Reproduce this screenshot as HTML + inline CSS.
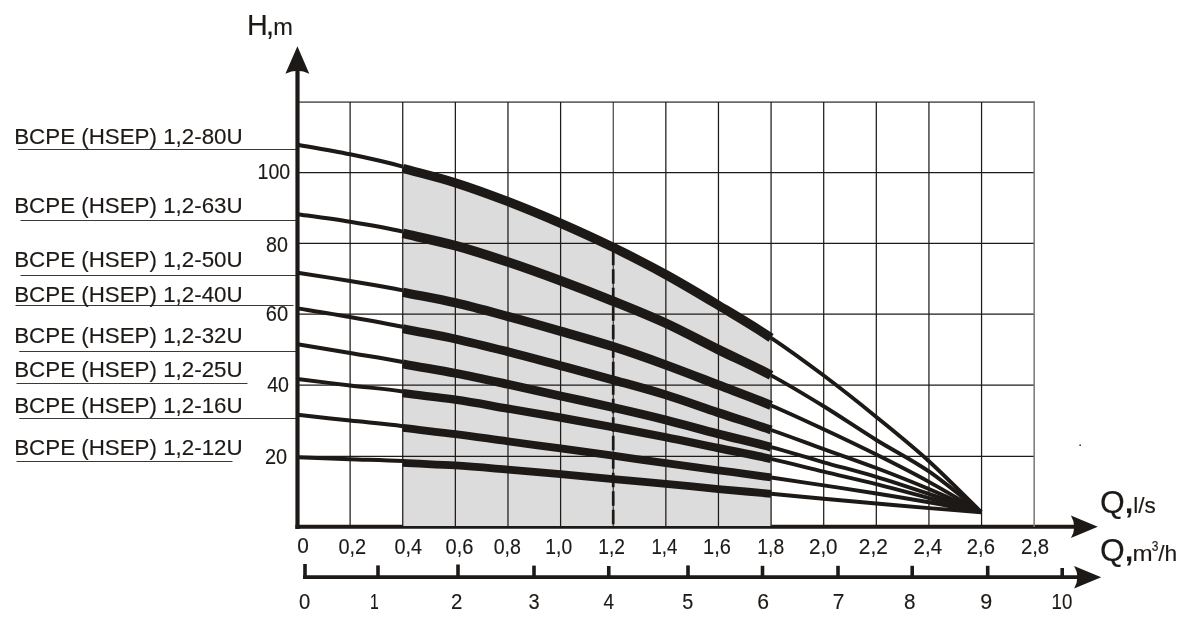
<!DOCTYPE html>
<html><head><meta charset="utf-8"><title>H-Q chart</title>
<style>html,body{margin:0;padding:0;background:#fff}svg{display:block}text{font-family:"Liberation Sans",Arial,sans-serif;fill:#1d1916;stroke:#1d1916;stroke-width:.15px}</style></head><body>
<svg width="1187" height="631" viewBox="0 0 1187 631">
<rect width="1187" height="631" fill="#fff"/>
<line x1="295.4" y1="526.75" x2="1078" y2="526.75" stroke="#1d1916" stroke-width="4.2"/>
<path d="M402.74,167.49 C420.28,172.24 437.82,177.12 455.36,182.80 C472.90,188.47 490.44,194.82 507.98,201.57 C525.52,208.32 543.06,215.63 560.60,223.28 C578.14,230.93 595.68,238.91 613.22,247.47 C630.76,256.03 648.30,264.97 665.84,274.62 C683.38,284.27 700.92,294.82 718.46,305.35 C736.00,315.88 753.54,326.12 771.08,337.82 L771.48,526 L402.74,526 Z" fill="#dcdcdc"/>
<line x1="297.50" y1="102.10" x2="1034.98" y2="102.10" stroke="#6a6866" stroke-width="1.6"/>
<line x1="297.50" y1="172.50" x2="1034.18" y2="172.50" stroke="#1f1b19" stroke-width="1.25"/>
<line x1="297.50" y1="243.30" x2="1034.18" y2="243.30" stroke="#1f1b19" stroke-width="1.25"/>
<line x1="297.50" y1="314.20" x2="1034.18" y2="314.20" stroke="#1f1b19" stroke-width="1.25"/>
<line x1="297.50" y1="385.20" x2="1034.18" y2="385.20" stroke="#1f1b19" stroke-width="1.25"/>
<line x1="297.50" y1="456.40" x2="1034.18" y2="456.40" stroke="#1f1b19" stroke-width="1.25"/>
<line x1="350.12" y1="102.10" x2="350.12" y2="526.75" stroke="#1f1b19" stroke-width="1.25"/>
<line x1="402.74" y1="102.10" x2="402.74" y2="526.75" stroke="#1f1b19" stroke-width="1.25"/>
<line x1="455.36" y1="102.10" x2="455.36" y2="526.75" stroke="#1f1b19" stroke-width="1.25"/>
<line x1="507.98" y1="102.10" x2="507.98" y2="526.75" stroke="#1f1b19" stroke-width="1.25"/>
<line x1="560.60" y1="102.10" x2="560.60" y2="526.75" stroke="#1f1b19" stroke-width="1.25"/>
<line x1="613.22" y1="102.10" x2="613.22" y2="526.75" stroke="#1f1b19" stroke-width="1.0"/>
<line x1="613.22" y1="250.80" x2="613.22" y2="525.50" stroke="#1d1916" stroke-width="2.7" stroke-dasharray="14.5 4"/>
<line x1="665.84" y1="102.10" x2="665.84" y2="526.75" stroke="#1f1b19" stroke-width="1.25"/>
<line x1="718.46" y1="102.10" x2="718.46" y2="526.75" stroke="#1f1b19" stroke-width="1.25"/>
<line x1="771.08" y1="102.10" x2="771.08" y2="526.75" stroke="#1f1b19" stroke-width="1.25"/>
<line x1="823.70" y1="102.10" x2="823.70" y2="526.75" stroke="#1f1b19" stroke-width="1.25"/>
<line x1="876.32" y1="102.10" x2="876.32" y2="526.75" stroke="#1f1b19" stroke-width="1.25"/>
<line x1="928.94" y1="102.10" x2="928.94" y2="526.75" stroke="#1f1b19" stroke-width="1.25"/>
<line x1="981.56" y1="102.10" x2="981.56" y2="526.75" stroke="#1f1b19" stroke-width="1.25"/>
<line x1="1034.18" y1="102.10" x2="1034.18" y2="526.75" stroke="#807e7c" stroke-width="1.6"/>
<line x1="18.10" y1="149.50" x2="296.00" y2="149.50" stroke="#3c3836" stroke-width="1"/>
<line x1="20.50" y1="220.50" x2="296.00" y2="220.50" stroke="#3c3836" stroke-width="1"/>
<line x1="20.50" y1="275.50" x2="296.00" y2="275.50" stroke="#3c3836" stroke-width="1"/>
<line x1="15.50" y1="305.50" x2="293.50" y2="305.50" stroke="#3c3836" stroke-width="1"/>
<line x1="19.25" y1="351.50" x2="296.00" y2="351.50" stroke="#3c3836" stroke-width="1"/>
<line x1="16.50" y1="383.50" x2="247.50" y2="383.50" stroke="#3c3836" stroke-width="1"/>
<line x1="19.25" y1="418.50" x2="296.00" y2="418.50" stroke="#3c3836" stroke-width="1"/>
<line x1="16.50" y1="461.50" x2="232.50" y2="461.50" stroke="#3c3836" stroke-width="1"/>
<path d="M297.50,144.71 C306.27,146.31 332.58,150.67 350.12,154.32 C367.66,157.97 385.20,161.85 402.74,166.59" fill="none" stroke="#1d1916" stroke-width="4.0"/>
<path d="M771.08,337.82 C788.62,349.52 806.16,362.37 823.70,375.55 C841.24,388.74 858.78,402.67 876.32,416.94 C893.86,431.21 911.46,445.32 928.94,461.19 C946.42,477.07 972.49,503.69 981.20,512.19" fill="none" stroke="#1d1916" stroke-width="3.9"/>
<path d="M402.74,168.39 C420.28,173.14 437.82,177.27 455.36,182.80 C472.90,188.32 490.44,194.82 507.98,201.57 C525.52,208.32 543.06,215.63 560.60,223.28 C578.14,230.93 595.68,238.91 613.22,247.47 C630.76,256.03 648.30,264.97 665.84,274.62 C683.38,284.27 700.92,294.82 718.46,305.35 C736.00,315.88 753.54,326.12 771.08,337.82" fill="none" stroke="#1d1916" stroke-width="9.2"/>
<path d="M297.50,214.20 C306.27,215.46 332.58,218.89 350.12,221.78 C367.66,224.68 385.20,227.60 402.74,231.59" fill="none" stroke="#1d1916" stroke-width="4.0"/>
<path d="M771.08,375.37 C788.62,384.82 806.16,395.50 823.70,406.27 C841.24,417.04 858.78,429.12 876.32,439.98 C893.86,450.84 911.46,459.38 928.94,471.42 C946.42,483.45 972.49,505.40 981.20,512.20" fill="none" stroke="#1d1916" stroke-width="3.9"/>
<path d="M402.74,233.39 C420.28,237.37 437.82,240.92 455.36,245.69 C472.90,250.47 490.44,256.18 507.98,262.03 C525.52,267.87 543.06,274.25 560.60,280.77 C578.14,287.30 595.68,294.10 613.22,301.18 C630.76,308.26 648.30,315.19 665.84,323.26 C683.38,331.33 700.92,340.89 718.46,349.58 C736.00,358.26 753.54,365.92 771.08,375.37" fill="none" stroke="#1d1916" stroke-width="9.6"/>
<path d="M297.50,272.69 C306.27,274.08 332.58,278.11 350.12,281.06 C367.66,284.00 385.20,286.72 402.74,290.34" fill="none" stroke="#1d1916" stroke-width="4.0"/>
<path d="M771.08,405.44 C788.62,412.81 806.16,421.08 823.70,429.27 C841.24,437.46 858.78,445.82 876.32,454.58 C893.86,463.34 911.46,472.24 928.94,481.84 C946.42,491.44 972.49,507.14 981.20,512.20" fill="none" stroke="#1d1916" stroke-width="3.9"/>
<path d="M402.74,292.14 C420.28,295.76 437.82,298.74 455.36,302.80 C472.90,306.86 490.44,311.74 507.98,316.48 C525.52,321.22 543.06,326.20 560.60,331.24 C578.14,336.28 595.68,341.10 613.22,346.72 C630.76,352.34 648.30,358.59 665.84,364.98 C683.38,371.37 700.92,378.31 718.46,385.05 C736.00,391.79 753.54,398.06 771.08,405.44" fill="none" stroke="#1d1916" stroke-width="9.2"/>
<path d="M297.50,308.39 C306.27,309.83 332.58,313.96 350.12,317.03 C367.66,320.10 385.20,323.14 402.74,326.79" fill="none" stroke="#1d1916" stroke-width="4.0"/>
<path d="M771.08,429.97 C788.62,436.03 806.16,442.71 823.70,449.06 C841.24,455.40 858.78,461.38 876.32,468.04 C893.86,474.70 911.46,481.65 928.94,489.01 C946.42,496.36 972.49,508.32 981.20,512.19" fill="none" stroke="#1d1916" stroke-width="3.9"/>
<path d="M402.74,328.59 C420.28,332.24 437.82,335.08 455.36,338.93 C472.90,342.79 490.44,347.27 507.98,351.72 C525.52,356.18 543.06,360.98 560.60,365.67 C578.14,370.37 595.68,375.04 613.22,379.91 C630.76,384.78 648.30,389.42 665.84,394.90 C683.38,400.37 700.92,406.90 718.46,412.74 C736.00,418.59 753.54,423.92 771.08,429.97" fill="none" stroke="#1d1916" stroke-width="8.8"/>
<path d="M297.50,344.20 C306.27,345.68 332.58,350.10 350.12,353.07 C367.66,356.04 385.20,358.67 402.74,362.03" fill="none" stroke="#1d1916" stroke-width="4.0"/>
<path d="M771.08,447.18 C788.62,451.91 806.16,457.35 823.70,462.29 C841.24,467.24 858.78,471.58 876.32,476.86 C893.86,482.14 911.46,488.08 928.94,493.97 C946.42,499.86 972.49,509.16 981.20,512.19" fill="none" stroke="#1d1916" stroke-width="3.9"/>
<path d="M402.74,363.83 C420.28,367.19 437.82,369.82 455.36,373.23 C472.90,376.63 490.44,380.47 507.98,384.26 C525.52,388.05 543.06,392.12 560.60,395.98 C578.14,399.85 595.68,403.45 613.22,407.44 C630.76,411.43 648.30,415.52 665.84,419.93 C683.38,424.35 700.92,429.38 718.46,433.92 C736.00,438.46 753.54,442.45 771.08,447.18" fill="none" stroke="#1d1916" stroke-width="8.8"/>
<path d="M297.50,379.11 C306.27,380.16 332.58,383.39 350.12,385.44 C367.66,387.49 385.20,389.04 402.74,391.41" fill="none" stroke="#1d1916" stroke-width="4.0"/>
<path d="M771.08,458.84 C788.62,462.74 806.16,467.41 823.70,471.62 C841.24,475.84 858.78,479.71 876.32,484.11 C893.86,488.51 911.46,493.36 928.94,498.04 C946.42,502.72 972.49,509.85 981.20,512.21" fill="none" stroke="#1d1916" stroke-width="3.9"/>
<path d="M402.74,393.21 C420.28,395.59 437.82,397.13 455.36,399.69 C472.90,402.25 490.44,405.59 507.98,408.59 C525.52,411.58 543.06,414.56 560.60,417.67 C578.14,420.78 595.68,423.98 613.22,427.24 C630.76,430.49 648.30,433.72 665.84,437.21 C683.38,440.70 700.92,444.59 718.46,448.19 C736.00,451.80 753.54,454.93 771.08,458.84" fill="none" stroke="#1d1916" stroke-width="8.3"/>
<path d="M297.50,414.80 C306.27,415.77 332.58,418.71 350.12,420.60 C367.66,422.50 385.20,423.94 402.74,426.18" fill="none" stroke="#1d1916" stroke-width="4.0"/>
<path d="M771.08,477.48 C788.62,480.00 806.16,482.75 823.70,485.42 C841.24,488.08 858.78,490.64 876.32,493.45 C893.86,496.26 911.46,499.16 928.94,502.28 C946.42,505.41 972.49,510.55 981.20,512.20" fill="none" stroke="#1d1916" stroke-width="3.9"/>
<path d="M402.74,427.98 C420.28,430.22 437.82,431.81 455.36,434.04 C472.90,436.27 490.44,438.97 507.98,441.37 C525.52,443.77 543.06,446.05 560.60,448.44 C578.14,450.83 595.68,453.26 613.22,455.72 C630.76,458.18 648.30,460.77 665.84,463.20 C683.38,465.63 700.92,467.93 718.46,470.31 C736.00,472.68 753.54,474.96 771.08,477.48" fill="none" stroke="#1d1916" stroke-width="7.8"/>
<path d="M297.50,457.30 C306.27,457.62 332.58,458.60 350.12,459.23 C367.66,459.86 385.20,460.06 402.74,461.10" fill="none" stroke="#1d1916" stroke-width="4.0"/>
<path d="M771.08,493.80 C788.62,495.41 806.16,497.09 823.70,498.71 C841.24,500.32 858.78,501.92 876.32,503.48 C893.86,505.04 911.46,506.62 928.94,508.07 C946.42,509.53 972.49,511.52 981.20,512.20" fill="none" stroke="#1d1916" stroke-width="3.9"/>
<path d="M402.74,462.90 C420.28,463.93 437.82,464.33 455.36,465.45 C472.90,466.57 490.44,468.17 507.98,469.62 C525.52,471.08 543.06,472.64 560.60,474.21 C578.14,475.78 595.68,477.44 613.22,479.04 C630.76,480.65 648.30,482.18 665.84,483.84 C683.38,485.50 700.92,487.36 718.46,489.02 C736.00,490.68 753.54,492.18 771.08,493.80" fill="none" stroke="#1d1916" stroke-width="7.8"/>
<line x1="297.5" y1="60" x2="297.5" y2="528.9" stroke="#1d1916" stroke-width="4.2"/>
<path d="M297.4,46.3 L309.3,73.8 Q297.4,67.5 285.4,73.8 Z" fill="#1d1916"/>
<path d="M1097.8,526.75 L1070.9,515.4 Q1077.5,526.75 1070.9,538.1 Z" fill="#1d1916"/>
<line x1="303" y1="577.2" x2="1082" y2="577.2" stroke="#1d1916" stroke-width="3.8"/>
<path d="M1101.2,577.2 L1074.1,565.9 Q1080.7,577.2 1074.1,588.5 Z" fill="#1d1916"/>
<line x1="305.00" y1="564.00" x2="305.00" y2="577" stroke="#1d1916" stroke-width="3.6"/>
<line x1="378.00" y1="565.40" x2="378.00" y2="577" stroke="#1d1916" stroke-width="3.6"/>
<line x1="458.00" y1="564.50" x2="458.00" y2="577" stroke="#1d1916" stroke-width="3.6"/>
<line x1="534.00" y1="565.60" x2="534.00" y2="577" stroke="#1d1916" stroke-width="3.6"/>
<line x1="608.75" y1="566.00" x2="608.75" y2="577" stroke="#1d1916" stroke-width="3.6"/>
<line x1="688.00" y1="565.40" x2="688.00" y2="577" stroke="#1d1916" stroke-width="3.6"/>
<line x1="762.50" y1="565.80" x2="762.50" y2="577" stroke="#1d1916" stroke-width="3.6"/>
<line x1="838.00" y1="565.80" x2="838.00" y2="577" stroke="#1d1916" stroke-width="3.6"/>
<line x1="912.20" y1="565.80" x2="912.20" y2="577" stroke="#1d1916" stroke-width="3.6"/>
<line x1="987.70" y1="565.80" x2="987.70" y2="577" stroke="#1d1916" stroke-width="3.6"/>
<line x1="1062.20" y1="568.00" x2="1062.20" y2="577" stroke="#1d1916" stroke-width="3.6"/>
<text transform="translate(14.21,143.70) scale(0.9843,1)" font-size="22.70">BCPE (HSEP) 1,2-80U</text>
<text transform="translate(14.21,213.25) scale(0.9843,1)" font-size="22.70">BCPE (HSEP) 1,2-63U</text>
<text transform="translate(14.21,266.75) scale(0.9843,1)" font-size="22.70">BCPE (HSEP) 1,2-50U</text>
<text transform="translate(14.21,302.00) scale(0.9843,1)" font-size="22.70">BCPE (HSEP) 1,2-40U</text>
<text transform="translate(14.21,342.50) scale(0.9843,1)" font-size="22.70">BCPE (HSEP) 1,2-32U</text>
<text transform="translate(14.21,376.75) scale(0.9843,1)" font-size="22.70">BCPE (HSEP) 1,2-25U</text>
<text transform="translate(14.21,412.50) scale(0.9843,1)" font-size="22.70">BCPE (HSEP) 1,2-16U</text>
<text transform="translate(14.21,455.00) scale(0.9843,1)" font-size="22.70">BCPE (HSEP) 1,2-12U</text>
<text transform="translate(257.53,179.00) scale(0.8886,1)" font-size="22.00">100</text>
<text transform="translate(266.11,252.00) scale(0.8959,1)" font-size="22.00">80</text>
<text transform="translate(265.80,321.00) scale(0.9135,1)" font-size="22.00">60</text>
<text transform="translate(267.21,392.00) scale(0.8918,1)" font-size="22.00">40</text>
<text transform="translate(265.00,463.80) scale(0.9047,1)" font-size="22.00">20</text>
<text transform="translate(297.27,553.00) scale(0.9739,1)" font-size="21.40">0</text>
<text transform="translate(338.40,554.30) scale(0.9310,1)" font-size="21.40">0,2</text>
<text transform="translate(394.41,554.30) scale(0.9275,1)" font-size="21.40">0,4</text>
<text transform="translate(445.50,554.30) scale(0.9382,1)" font-size="21.40">0,6</text>
<text transform="translate(493.72,554.30) scale(0.9167,1)" font-size="21.40">0,8</text>
<text transform="translate(545.36,554.30) scale(0.8979,1)" font-size="21.40">1,0</text>
<text transform="translate(598.26,554.30) scale(0.8976,1)" font-size="21.40">1,2</text>
<text transform="translate(651.40,554.30) scale(0.8728,1)" font-size="21.40">1,4</text>
<text transform="translate(702.99,554.30) scale(0.9383,1)" font-size="21.40">1,6</text>
<text transform="translate(757.30,554.30) scale(0.9015,1)" font-size="21.40">1,8</text>
<text transform="translate(808.97,554.30) scale(0.9615,1)" font-size="21.40">2,0</text>
<text transform="translate(858.86,554.30) scale(0.9744,1)" font-size="21.40">2,2</text>
<text transform="translate(913.57,554.30) scale(0.9595,1)" font-size="21.40">2,4</text>
<text transform="translate(966.79,554.30) scale(0.9454,1)" font-size="21.40">2,6</text>
<text transform="translate(1020.88,554.30) scale(0.9490,1)" font-size="21.40">2,8</text>
<text transform="translate(298.89,608.80) scale(0.9489,1)" font-size="21.30">0</text>
<text transform="translate(369.91,608.80) scale(0.7424,1)" font-size="21.30">1</text>
<text transform="translate(451.08,608.80) scale(0.9596,1)" font-size="21.30">2</text>
<text transform="translate(528.40,608.80) scale(0.9390,1)" font-size="21.30">3</text>
<text transform="translate(603.52,608.80) scale(0.8920,1)" font-size="21.30">4</text>
<text transform="translate(682.31,608.80) scale(0.9291,1)" font-size="21.30">5</text>
<text transform="translate(757.19,608.80) scale(0.9951,1)" font-size="21.30">6</text>
<text transform="translate(832.71,608.80) scale(0.9802,1)" font-size="21.30">7</text>
<text transform="translate(903.97,608.80) scale(0.9689,1)" font-size="21.30">8</text>
<text transform="translate(980.23,608.80) scale(1.0096,1)" font-size="21.30">9</text>
<text transform="translate(1051.50,608.80) scale(0.8779,1)" font-size="21.30">10</text>
<text transform="translate(247.10,34.65) scale(0.9948,1)" font-size="28.90">H</text>
<text transform="translate(265.70,34.65) scale(1.0563,1)" font-size="28.90">,</text>
<text transform="translate(273.17,34.65) scale(1.0030,1)" font-size="23.50">m</text>
<text transform="translate(1100.07,513.20) scale(1.0200,1)" font-size="31.20">Q</text>
<text transform="translate(1124.95,513.00) scale(0.9762,1)" font-size="30.00" font-weight="bold">,</text>
<text transform="translate(1133.23,513.00) scale(1.0491,1)" font-size="21.50">l/s</text>
<text transform="translate(1100.07,561.30) scale(1.0200,1)" font-size="31.20">Q</text>
<text transform="translate(1124.95,561.00) scale(0.9762,1)" font-size="30.00" font-weight="bold">,</text>
<text transform="translate(1132.43,561.40) scale(1.0730,1)" font-size="22.50">m</text>
<text transform="translate(1151.72,550.50) scale(0.8332,1)" font-size="14.30">3</text>
<text transform="translate(1158.30,561.40) scale(1.0425,1)" font-size="21.80">/h</text>
<rect x="1079.4" y="444.5" width="1.5" height="1.5" fill="#222"/>
</svg></body></html>
